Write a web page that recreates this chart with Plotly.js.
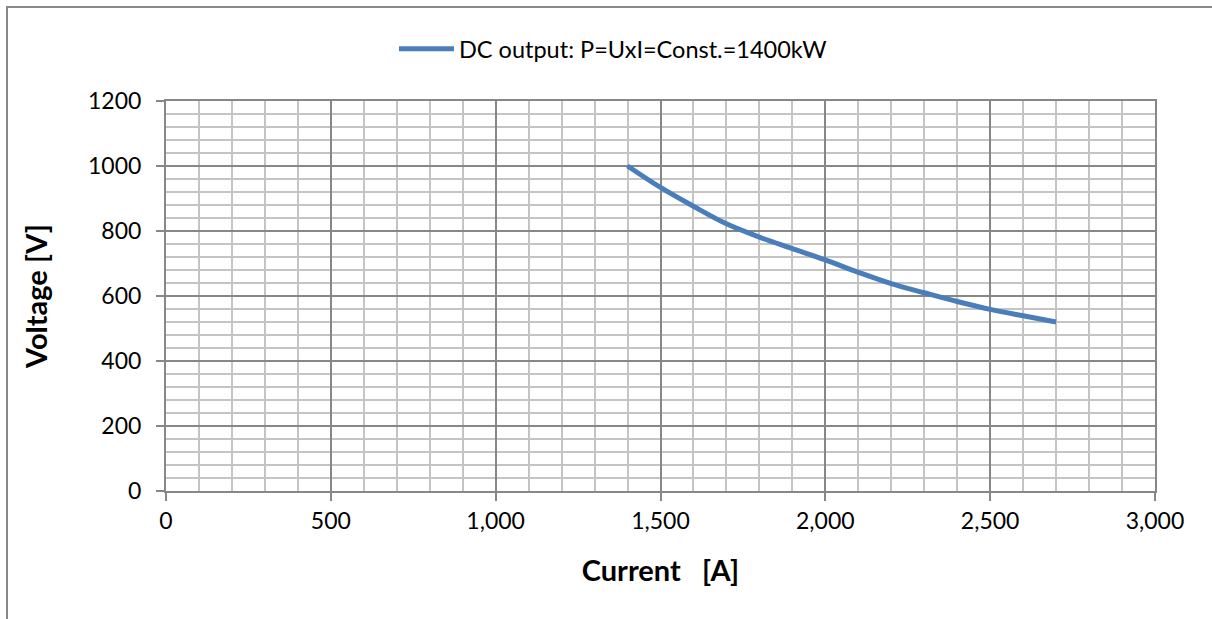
<!DOCTYPE html>
<html>
<head>
<meta charset="utf-8">
<script src="https://cdn.plot.ly/plotly-3.0.1.min.js"></script>
<style>
html,body{margin:0;padding:0;background:#fff;overflow:hidden;}
#wrap{position:relative;width:1212px;height:619px;}
#chart{position:absolute;left:0;top:0;width:1212px;height:619px;}
#frame{position:absolute;left:6px;top:6px;width:1230px;height:640px;border:2px solid #898989;box-sizing:border-box;pointer-events:none;}
</style>
</head>
<body>
<div id="wrap">
<div id="chart"></div>
<div id="frame"></div>
</div>
<script>
const current = [1400, 1500, 1600, 1700, 1800, 1900, 2000, 2100, 2200, 2300, 2400, 2500, 2600, 2700];
const voltage = [1000, 934, 876, 822, 781, 746, 711, 673, 638, 610, 583, 559, 539, 520];
const seriesName = 'DC output: P=UxI=Const.=1400kW';
const xTitle = 'Current   [A]';
const yTitle = 'Voltage [V]';

const FONT = 'Lato, "Open Sans", sans-serif';
const trace = {
  x: current, y: voltage, name: seriesName, type: 'scatter', mode: 'lines',
  line: {color: '#4A7EBB', width: 5, shape: 'spline', smoothing: 1}
};
const layout = {
  width: 1212, height: 619,
  margin: {l: 166, r: 57, t: 101, b: 128, autoexpand: false},
  paper_bgcolor: '#fff', plot_bgcolor: '#fff',
  font: {family: FONT, size: 23, color: '#000'},
  showlegend: true,
  legend: {orientation: 'h', x: 0.5 + 7/1212, xanchor: 'center', xref: 'container', yref: 'container', y: 1 - 49/619, yanchor: 'middle', font: {family: FONT, size: 23.5, color: '#000'}, itemwidth: 55, bgcolor: 'rgba(0,0,0,0)'},
  xaxis: {
    range: [0, 3000], dtick: 500, tick0: 0, tickformat: ',d',
    showgrid: true, gridcolor: '#878787', gridwidth: 2,
    minor: {dtick: 100, showgrid: true, gridcolor: '#C4C4C4', gridwidth: 2, ticks: ''},
    ticks: 'outside', ticklen: 8, tickwidth: 2, tickcolor: '#878787',
    showline: true, linecolor: '#878787', linewidth: 2, mirror: true,
    zeroline: false, fixedrange: true, automargin: false,
    tickfont: {family: FONT, size: 23, color: '#000'},
    title: {text: xTitle, font: {family: FONT, size: 29, color: '#000', weight: 'bold'}, standoff: 28}
  },
  yaxis: {
    range: [0, 1200], dtick: 200, tick0: 0,
    showgrid: true, gridcolor: '#878787', gridwidth: 2,
    minor: {dtick: 40, showgrid: true, gridcolor: '#C4C4C4', gridwidth: 2, ticks: ''},
    ticks: 'outside', ticklen: 8, tickwidth: 2, tickcolor: '#878787',
    showline: true, linecolor: '#878787', linewidth: 2, mirror: true,
    zeroline: false, fixedrange: true, automargin: false,
    ticklabelstandoff: 10,
    tickfont: {family: FONT, size: 23, color: '#000'},
    title: {text: yTitle, font: {family: FONT, size: 29, color: '#000', weight: 'bold'}, standoff: 32}
  }
};
Plotly.newPlot('chart', [trace], layout, {displayModeBar: false, staticPlot: true});
</script>
</body>
</html>
